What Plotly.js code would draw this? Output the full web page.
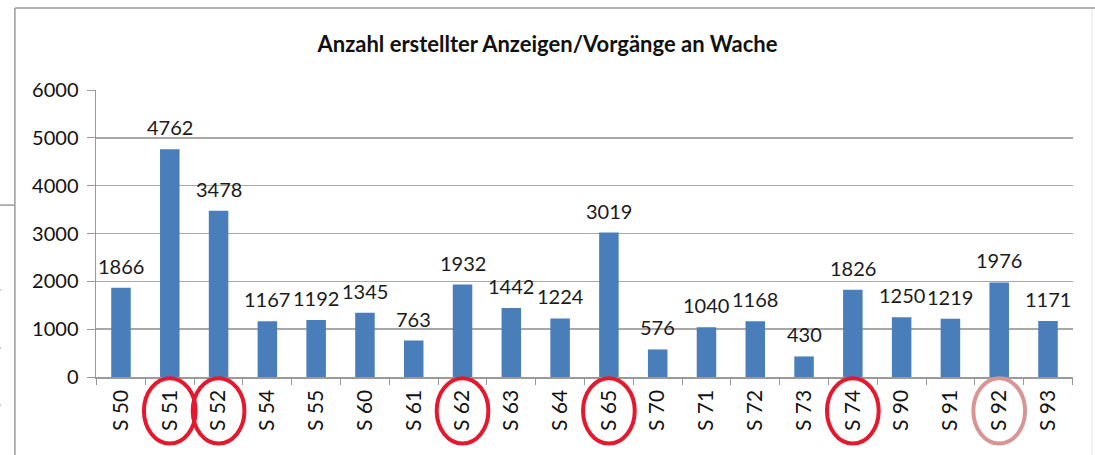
<!DOCTYPE html>
<html>
<head>
<meta charset="utf-8">
<script src="https://cdn.plot.ly/plotly-3.0.1.min.js"></script>
<style>
html,body{margin:0;padding:0;background:#fff;}
#chart{width:1095px;height:455px;}
</style>
</head>
<body>
<div id="chart"></div>
<script>
const stations = ["S 50","S 51","S 52","S 54","S 55","S 60","S 61","S 62","S 63","S 64","S 65","S 70","S 71","S 72","S 73","S 74","S 90","S 91","S 92","S 93"];
const counts = [1866,4762,3478,1167,1192,1345,763,1932,1442,1224,3019,576,1040,1168,430,1826,1250,1219,1976,1171];
const circledStations = ["S 51","S 52","S 62","S 65","S 74","S 92"];
const circleColors = ["#e5182e","#e5182e","#e5182e","#e5182e","#e5182e","#d99595"];
const yTicks = [0,1000,2000,3000,4000,5000,6000];
const titleText = "Anzahl erstellter Anzeigen/Vorgänge an Wache";

const FONT = "Lato, 'Open Sans', sans-serif";

const trace = {
  type: "bar",
  x: stations,
  y: counts,
  marker: {color: "#4a7ebb"},
  hoverinfo: "x+y"
};

const annotations = stations.map((s, i) => ({
  x: s, y: counts[i], xref: "x", yref: "y",
  text: String(counts[i]),
  showarrow: false,
  yanchor: "bottom",
  yshift: 8,
  font: {family: FONT, size: 20, color: "#1a1a1a"}
}));

const shapes = [];
circledStations.forEach((s, k) => {
  const i = stations.indexOf(s);
  shapes.push({
    type: "circle", xref: "x", yref: "paper",
    x0: i - 0.53, x1: i + 0.53,
    y0: -0.004, y1: -0.232,
    line: {color: circleColors[k], width: 4},
    fillcolor: "rgba(0,0,0,0)"
  });
});
// chart frame
shapes.push({type:"line", xref:"paper", yref:"paper", x0:-0.083, x1:1.03, y0:1.2857, y1:1.2857, line:{color:"#9a9a9a", width:1.5}});
shapes.push({type:"line", xref:"paper", yref:"paper", x0:-0.083, x1:-0.083, y0:1.2857, y1:-0.3, line:{color:"#9a9a9a", width:1.5}});
shapes.push({type:"line", xref:"paper", yref:"paper", x0:1.0195, x1:1.0195, y0:1.28, y1:-0.3, line:{color:"#e4e4e4", width:1}});
shapes.push({type:"line", xref:"paper", yref:"paper", x0:-0.1, x1:-0.083, y0:0.599, y1:0.599, line:{color:"#9a9a9a", width:1.5}});
[0.303, 0.101, -0.098].forEach(v => {
  shapes.push({type:"line", xref:"paper", yref:"paper", x0:-0.1, x1:-0.097, y0:v, y1:v, line:{color:"#9a9a9a", width:1}});
});

const layout = {
  width: 1095, height: 455,
  margin: {l: 96, r: 22, t: 90, b: 78},
  paper_bgcolor: "#fff", plot_bgcolor: "#fff",
  showlegend: false,
  bargap: 0.6,
  title: {
    text: "<b>" + titleText + "</b>",
    xref: "container", x: 0.5, xanchor: "center",
    yref: "container", y: 0.903, yanchor: "middle",
    font: {family: FONT, size: 22, color: "#111"}
  },
  xaxis: {
    type: "category",
    tickangle: -90,
    tickson: "boundaries",
    ticks: "outside", ticklen: 6, tickcolor: "#9a9a9a",
    showline: true, linecolor: "#9a9a9a", linewidth: 1.5,
    showgrid: false,
    tickfont: {family: FONT, size: 21, color: "#111"},
    ticklabelstandoff: 3
  },
  yaxis: {
    range: [0, 6000],
    tickvals: yTicks,
    ticktext: yTicks.map(String),
    ticks: "outside", ticklen: 8, tickcolor: "#9a9a9a",
    showline: true, linecolor: "#9a9a9a", linewidth: 1.5,
    showgrid: true, gridcolor: "#a8a8a8", gridwidth: 1.5,
    zeroline: false,
    tickfont: {family: FONT, size: 20, color: "#111"},
    ticklabelstandoff: 4
  },
  annotations: annotations,
  shapes: shapes
};

Plotly.newPlot("chart", [trace], layout, {displayModeBar: false, staticPlot: true});
</script>
</body>
</html>
